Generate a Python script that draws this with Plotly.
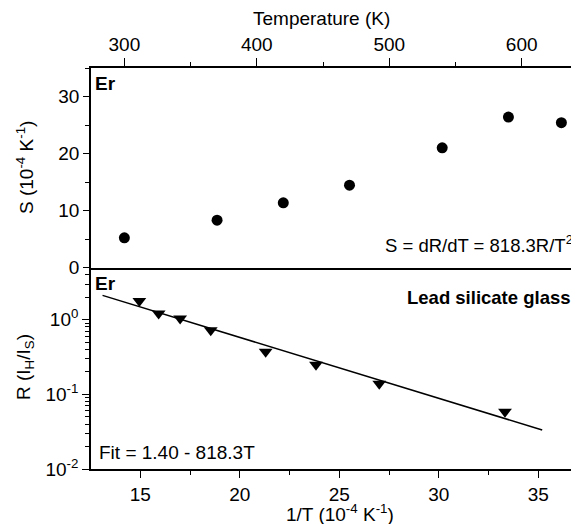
import plotly.graph_objects as go

# ---- data ----
temp_K = [300, 370, 420, 470, 540, 590, 630]
S_vals = [5.2, 8.3, 11.35, 14.45, 21.0, 26.4, 25.4]

invT = [14.95, 15.92, 17.0, 18.54, 21.3, 23.83, 27.01, 33.33]
R_vals = [1.78, 1.21, 1.04, 0.725, 0.373, 0.249, 0.139, 0.0586]

fit_x = [13.1, 35.2]
fit_y = [2.12, 0.0333]

temp_ticks = [300, 400, 500, 600]
invT_ticks = [15, 20, 25, 30, 35]
S_ticks = [0, 10, 20, 30]
R_ticks = [0.01, 0.1, 1]
R_ticktext = ["10<sup>-2</sup>", "10<sup>-1</sup>", "10<sup>0</sup>"]

FONT = "Liberation Sans, Arial, sans-serif"
FS = 19

# page body has an 8px default margin; target screen geometry below
OFF = 8
LEFT, RIGHT, TOP, BOTTOM = 91, 579, 68, 469
W, H = 579 - OFF, 524 - OFF

fig = go.Figure()

fig.add_trace(go.Scatter(x=temp_K, y=S_vals, mode="markers",
                         marker=dict(symbol="circle", size=11, color="black"),
                         xaxis="x2", yaxis="y2", showlegend=False))
fig.add_trace(go.Scatter(x=fit_x, y=fit_y, mode="lines",
                         line=dict(color="black", width=1.5),
                         xaxis="x", yaxis="y", showlegend=False))
fig.add_trace(go.Scatter(x=invT, y=R_vals, mode="markers",
                         marker=dict(symbol="triangle-down", size=12, color="black"),
                         xaxis="x", yaxis="y", showlegend=False))

split = (BOTTOM - 267.5) / (BOTTOM - TOP)
common = dict(showgrid=False, zeroline=False, showline=True, linecolor="black",
              linewidth=1.6, ticks="outside", tickcolor="black", tickwidth=1.2,
              tickfont=dict(family=FONT, size=FS, color="black"))

fig.update_layout(
    width=W, height=H,
    margin=dict(l=LEFT - OFF, r=W - (RIGHT - OFF), t=TOP - OFF, b=H - (BOTTOM - OFF)),
    paper_bgcolor="white", plot_bgcolor="white",
    font=dict(family=FONT, size=FS, color="black"),
    xaxis=dict(domain=[0, 1], anchor="y", range=[12.52, 37.05],
               tickvals=invT_ticks, ticklen=7,
               minor=dict(dtick=2.5, tick0=0, ticks="outside", ticklen=4,
                          tickcolor="black", tickwidth=1.2, showgrid=False),
               **common),
    yaxis=dict(domain=[0, split], anchor="x", type="log", range=[-2, 0.7],
               tickvals=R_ticks, ticktext=R_ticktext, ticklen=7,
               minor=dict(dtick="D1", ticks="outside", ticklen=4,
                          tickcolor="black", tickwidth=1, showgrid=False),
               **common),
    xaxis2=dict(domain=[0, 1], anchor="y2", side="top", range=[274.8, 643.3],
                tickvals=temp_ticks, ticklen=8, mirror=True,
                minor=dict(dtick=50, tick0=0, ticks="outside", ticklen=4,
                           tickcolor="black", tickwidth=1.2, showgrid=False),
                **common),
    yaxis2=dict(domain=[split, 1], anchor="x2", range=[0, 35],
                tickvals=S_ticks, ticklen=6,
                minor=dict(dtick=5, tick0=0, ticks="outside", ticklen=4,
                           tickcolor="black", tickwidth=1.2, showgrid=False),
                **common),
)

def px2x(px):
    return (px - LEFT) / float(RIGHT - LEFT)

def py2y(py):
    return (BOTTOM - py) / float(BOTTOM - TOP)

ann = [
    dict(text="Temperature (K)", x=px2x(321.7), y=py2y(19), xanchor="center", yanchor="middle", size=FS),
    dict(text="1/T (10<sup>-4</sup> K<sup>-1</sup>)", x=px2x(340), y=py2y(513), xanchor="center", yanchor="middle", size=FS),
    dict(text="S (10<sup>-4</sup> K<sup>-1</sup>)", x=px2x(25), y=py2y(168), xanchor="center", yanchor="middle", textangle=-90, size=FS),
    dict(text="R (I<sub>H</sub>/I<sub>S</sub>)", x=px2x(25), y=py2y(367), xanchor="center", yanchor="middle", textangle=-90, size=FS),
    dict(text="<b>Er</b>", x=px2x(93), y=py2y(83), xanchor="left", yanchor="middle", size=FS),
    dict(text="<b>Er</b>", x=px2x(93), y=py2y(283), xanchor="left", yanchor="middle", size=FS),
    dict(text="<b>Lead silicate glass</b>", x=px2x(573), y=py2y(297), xanchor="right", yanchor="middle", size=18.5),
    dict(text="S = dR/dT = 818.3R/T<sup>2</sup>", x=px2x(575), y=py2y(244), xanchor="right", yanchor="middle", size=18.5),
    dict(text="Fit = 1.40 - 818.3T", x=px2x(97), y=py2y(452), xanchor="left", yanchor="middle", size=FS),
]
for a in ann:
    s = a.pop("size")
    a.update(xref="paper", yref="paper", showarrow=False,
             font=dict(family=FONT, size=s, color="black"))
fig.update_layout(annotations=ann)

fig.write_html("out.html")
